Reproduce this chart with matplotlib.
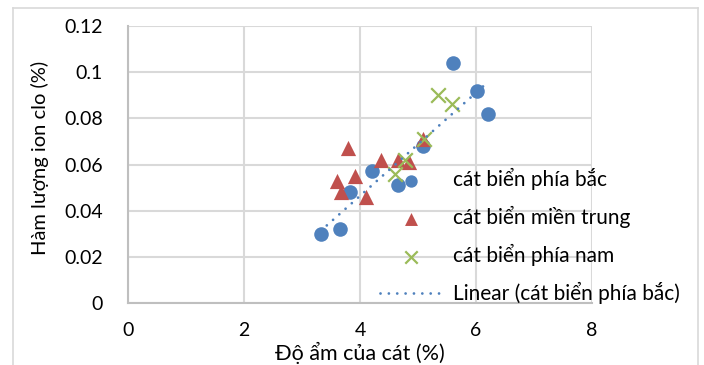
import matplotlib
matplotlib.use("Agg")
import matplotlib.pyplot as plt
import numpy as np
from matplotlib.lines import Line2D

plt.rcParams['font.family'] = ['Lato', 'Noto Sans', 'DejaVu Sans']

# Data
north_x = [3.32, 3.65, 3.82, 4.20, 4.65, 5.08, 5.61, 6.02, 6.20]
north_y = [0.030, 0.032, 0.048, 0.057, 0.051, 0.068, 0.104, 0.092, 0.082]
central_x = [3.60, 3.67, 3.80, 3.92, 4.11, 4.37, 4.66, 4.84, 5.08]
central_y = [0.053, 0.048, 0.067, 0.055, 0.046, 0.062, 0.062, 0.061, 0.071]
south_x = [4.61, 4.78, 5.10, 5.34, 5.59]
south_y = [0.056, 0.062, 0.071, 0.090, 0.086]
labels = ["cát biển phía bắc", "cát biển miền trung", "cát biển phía nam",
          "Linear (cát biển phía bắc)"]
xticks = [0, 2, 4, 6, 8]
yticks = [0, 0.02, 0.04, 0.06, 0.08, 0.1, 0.12]
ytick_labels = ["0", "0.02", "0.04", "0.06", "0.08", "0.1", "0.12"]

W, H = 704, 365
fig = plt.figure(figsize=(W / 100, H / 100), dpi=100)
ax = fig.add_axes([128 / W, 1 - 303 / H, (592 - 128) / W, (303 - 26) / H])

blue = "#4F81BD"
red = "#C0504D"
green = "#9BBB59"

ax.scatter(north_x, north_y, s=110, color=blue, marker='o', linewidths=0, zorder=3, label=labels[0])
ax.scatter(central_x, central_y, s=120, color=red, marker='^', linewidths=0, zorder=4, label=labels[1])
ax.scatter(south_x, south_y, s=110, color=green, marker='x', linewidths=1.6, zorder=5, label=labels[2])

# Linear trendline fitted on the north series
coef = np.polyfit(north_x, north_y, 1)
tx = np.array([min(north_x), max(north_x)])
ax.plot(tx, np.polyval(coef, tx), color=blue, lw=2.0, linestyle=(0, (0.01, 3.0)),
        dash_capstyle='round', zorder=6, label=labels[3])

ax.set_xlim(0, 8)
ax.set_ylim(0, 0.12)
ax.set_xticks(xticks)
ax.set_xticklabels([str(t) for t in xticks])
ax.set_yticks(yticks)
ax.set_yticklabels(ytick_labels)
ax.tick_params(axis='both', length=0, labelsize=14, colors='#000000')
ax.tick_params(axis='y', pad=18)
ax.tick_params(axis='x', pad=14)
ax.grid(True, color='#D9D9D9', lw=1.5, zorder=0)
ax.set_axisbelow(True)
for s in ['top', 'right']:
    ax.spines[s].set_visible(False)
for s in ['left', 'bottom']:
    ax.spines[s].set_color('#BFBFBF')
    ax.spines[s].set_linewidth(1.5)

fig.text(360 / W, 1 - 353 / H, "Độ ẩm của cát (%)", ha='center', va='center', fontsize=15.5)
fig.text(40 / W, 1 - 158 / H, "Hàm lượng ion clo (%)", ha='center', va='center',
         rotation=90, fontsize=14.5)

leg = ax.legend(loc='upper left', bbox_to_anchor=(380 / W, 1 - 168 / H),
                bbox_transform=fig.transFigure, frameon=False, fontsize=15,
                handlelength=3.0, handletextpad=0.5, labelspacing=0.76,
                borderaxespad=0, borderpad=0, markerscale=0.85)

# Outer chart border
bc = '#D9D9D9'
fig.add_artist(Line2D([13 / W, 13 / W], [0, 1 - 8 / H], color=bc, lw=1.2, transform=fig.transFigure))
fig.add_artist(Line2D([698 / W, 698 / W], [0, 1 - 8 / H], color=bc, lw=1.2, transform=fig.transFigure))
fig.add_artist(Line2D([13 / W, 698 / W], [1 - 8 / H, 1 - 8 / H], color=bc, lw=1.2, transform=fig.transFigure))

fig.savefig("out.png", dpi=100)
